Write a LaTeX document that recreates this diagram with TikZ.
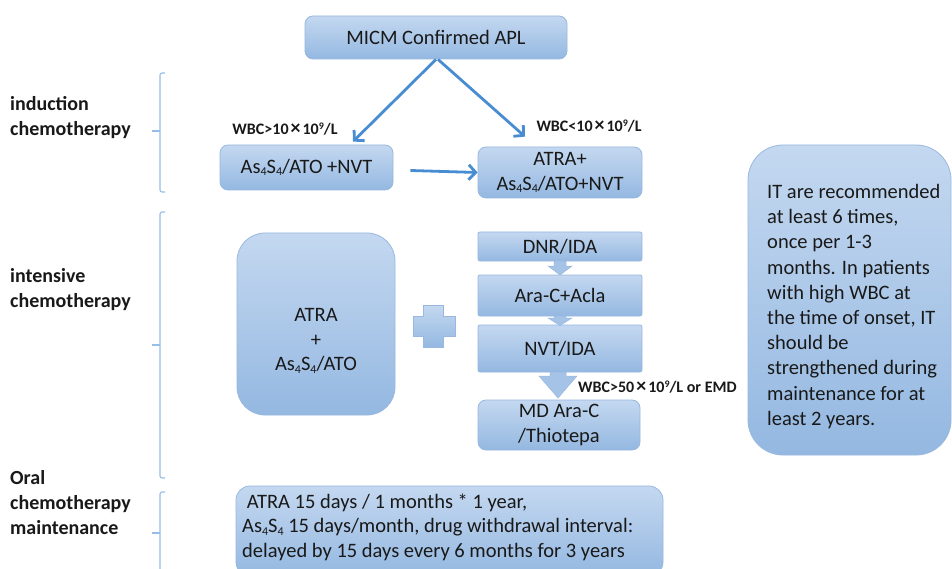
\documentclass[tikz,border=0pt]{standalone}
\usepackage{fontspec}
\setmainfont{Carlito}
\usetikzlibrary{arrows.meta,calc}
\definecolor{boxtop}{RGB}{196,216,240}
\definecolor{boxbot}{RGB}{148,184,225}
\definecolor{boxline}{RGB}{152,184,224}
\definecolor{arrowblue}{RGB}{72,140,210}
\definecolor{brack}{RGB}{150,190,230}
\definecolor{txt}{RGB}{25,25,25}
\newcommand{\subfour}{\raisebox{-2.5pt}{\fontsize{12}{12}\selectfont 4}}
\newcommand{\supnine}{\raisebox{4.5pt}{\fontsize{10}{10}\selectfont 9}}
\begin{document}
\begin{tikzpicture}[x=1pt,y=-1pt,
  box/.style={draw=boxline, line width=0.8pt, top color=boxtop, bottom color=boxbot,
    rounded corners=8pt, text=txt, font=\fontsize{20.5}{24.5}\selectfont, align=center, inner sep=0pt},
  sqbox/.style={box, rounded corners=2pt},
  boxtext/.style={text=txt, font=\fontsize{20.5}{24.5}\selectfont, inner sep=0pt},
  notetext/.style={text=txt, font=\fontsize{20.5}{25.2}\selectfont, inner sep=0pt},
  phase/.style={text=txt, font=\bfseries\fontsize{20}{25}\selectfont, align=left, anchor=west, inner sep=0pt},
  cond/.style={text=txt, font=\bfseries\fontsize{16}{19}\selectfont, inner sep=0pt},
  arr/.style={draw=arrowblue, line width=2.8pt, -{Straight Barb[length=7pt,width=15pt]}},
  brk/.style={draw=brack, line width=1.1pt, rounded corners=2pt},
  blk/.style={fill=boxbot!85!white, draw=boxline, line width=0.5pt}
]
\clip (0,0) rectangle (952,569);
\fill[white] (0,0) rectangle (952,569);

% phase labels
\node[phase] (ind) at (10,117.5) {induction\\chemotherapy};
\node[phase] (ints) at (10,290) {intensive\\chemotherapy};
\node[phase] (oral) at (10,503) {Oral\\chemotherapy\\maintenance};

% brackets
\draw[brk] (165,73) -- (160,73) -- (160,192) -- (165,192);
\draw[brk] (160,131) -- (152,131);
\draw[brk] (165,212) -- (160,212) -- (160,478) -- (165,478);
\draw[brk] (160,345) -- (152,345);
\draw[brk] (165,492) -- (160,492) -- (160,580);
\draw[brk] (160,533) -- (152,533);

% top
\node[box, minimum width=262, minimum height=43] (micm) at (436,37.5) {MICM Confirmed APL};

% induction
\node[box, minimum width=173, minimum height=45] (b1) at (306.5,167.5) {As\subfour S\subfour/ATO +NVT};
\node[box, minimum width=164, minimum height=51] (b2) at (560,172.5) {ATRA+\\As\subfour S\subfour/ATO+NVT};

\node[cond] (c1) at (285,129) {WBC>10\hspace{2pt}{\fontsize{20}{20}\selectfont ×}\hspace{2pt}10\supnine/L};
\node[cond] (c2) at (589,126) {WBC<10\hspace{2pt}{\fontsize{20}{20}\selectfont ×}\hspace{2pt}10\supnine/L};

\draw[arr] ([xshift=0pt]micm.south) -- ([xshift=46.5pt,yshift=3pt]b1.north);
\draw[arr] ([xshift=2pt]micm.south) -- ([xshift=-35pt,yshift=10pt]b2.north);
\draw[arr] ($(b1.east)+(17,3)$) -- (b2.west);

% intensive
\node[box, rounded corners=28pt, minimum width=158, minimum height=182] (atra) at (316,324) {};
\node[boxtext, align=center] (atratxt) at (316,341) {ATRA\\+\\As\subfour S\subfour/ATO};

\shade[top color=boxtop, bottom color=boxbot, draw=boxline, line width=0.5pt]
  (423,305) -- (443,305) -- (443,316) -- (455,316) -- (455,336) -- (443,336) -- (443,347)
  -- (423,347) -- (423,336) -- (413,336) -- (413,316) -- (423,316) -- cycle;

\node[sqbox, minimum width=164, minimum height=29] (dnr) at (560,246.5) {DNR/IDA};
\node[sqbox, minimum width=164, minimum height=41] (arac) at (560,295.5) {Ara-C+Acla};
\node[sqbox, minimum width=164, minimum height=47] (nvt) at (560,348.5) {NVT/IDA};
\node[box, minimum width=162, minimum height=50] (md) at (559,425) {MD Ara-C\\/Thiotepa};

\fill[blk] (554,261) -- (566,261) -- (566,266) -- (572,266) -- (560,275) -- (548,266) -- (554,266) -- cycle;
\fill[blk] (554,316) -- (566,316) -- (566,318) -- (572,318) -- (560,325.5) -- (548,318) -- (554,318) -- cycle;
\fill[blk] (550,372) -- (566,372) -- (566,376) -- (577,376) -- (558,398) -- (539,376) -- (550,376) -- cycle;

\node[cond, anchor=west] (c3) at (578,387) {WBC>50\hspace{2pt}{\fontsize{20}{20}\selectfont ×}\hspace{2pt}10\supnine/L or EMD};

% right note
\node[box, rounded corners=35pt, minimum width=203, minimum height=310] (note) at (849.5,300) {};
\node[notetext, anchor=west, align=left] (notetxt) at (767,306.5) {IT are recommended\\at least 6 times,\\once per 1-3\\months. In patients\\with high WBC at\\the time of onset, IT\\should be\\strengthened during\\maintenance for at\\least 2 years.};

% maintenance
\node[box, rounded corners=14pt, minimum width=427, minimum height=90] (maint) at (449.5,531) {};
\node[boxtext, anchor=west, align=left] (mainttxt) at (242,527) {\ ATRA 15 days / 1 months * 1 year,\\As\subfour S\subfour{} 15 days/month, drug withdrawal interval:\\delayed by 15 days every 6 months for 3 years};
\end{tikzpicture}
\end{document}
